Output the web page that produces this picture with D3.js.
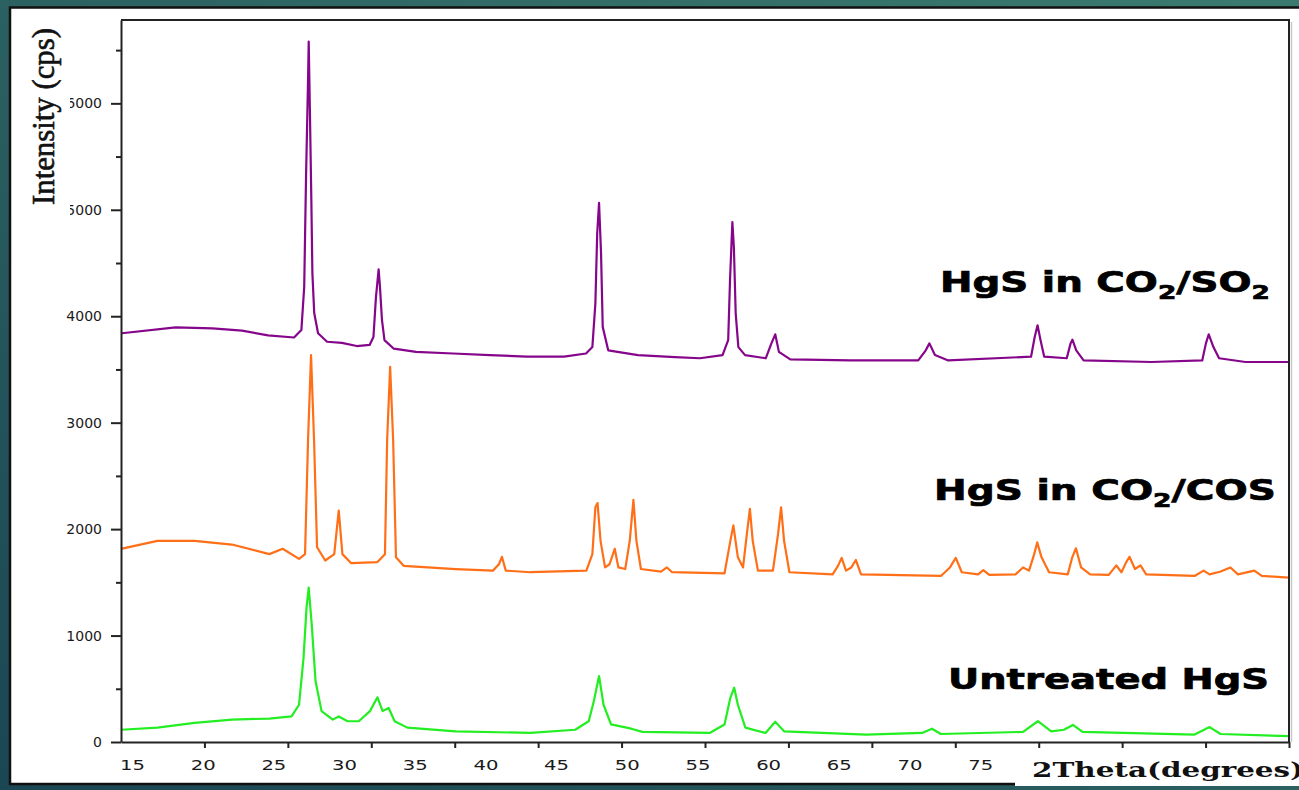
<!DOCTYPE html>
<html>
<head>
<meta charset="utf-8">
<script src="https://cdn.jsdelivr.net/npm/d3@7"></script>
<style>
html, body { margin: 0; padding: 0; overflow: hidden; background: #1f4d57; }
svg { display: block; }
</style>
</head>
<body>
<svg id="chart" width="1299" height="790"></svg>
<script>
// [2theta (deg), intensity (cps)]
var so2Data = [
    [10.05,3840],[13.27,3895],[15.48,3885],[17.25,3865],[18.81,3820],[20.37,3800],[20.81,3870],[20.98,4275],
    [21.09,5310],[21.21,6220],[21.25,6580],[21.32,5940],[21.41,5065],[21.47,4405],[21.58,4030],[21.81,3840],
    [22.35,3760],[23.24,3750],[24.13,3720],[24.90,3730],[25.13,3805],[25.28,4180],[25.44,4440],[25.52,4275],
    [25.64,3965],[25.79,3775],[26.35,3695],[27.68,3665],[29.90,3650],[32.11,3635],[34.33,3620],[36.55,3620],
    [37.87,3650],[38.25,3710],[38.43,4120],[38.54,4780],[38.65,5065],[38.77,4590],[38.87,3900],[39.20,3680],
    [40.98,3635],[43.20,3615],[44.70,3605],[46.05,3635],[46.39,3775],[46.50,4340],[46.64,4885],[46.73,4650],
    [46.84,4025],[47.00,3710],[47.40,3635],[48.64,3605],[48.98,3745],[49.21,3830],[49.43,3665],[50.11,3595],
    [53.72,3585],[57.78,3585],[58.23,3680],[58.45,3745],[58.78,3635],[59.58,3585],[64.54,3620],[64.76,3805],
    [64.93,3915],[65.11,3775],[65.33,3620],[66.68,3605],[66.91,3745],[67.02,3780],[67.25,3680],[67.69,3585],
    [71.76,3570],[74.80,3585],[75.02,3745],[75.19,3830],[75.47,3710],[75.81,3605],[77.39,3570],[80.00,3570]
];

var cosData = [
    [10.00,1815],[12.18,1890],[14.41,1890],[16.65,1855],[18.89,1765],[19.69,1815],[20.67,1720],[21.03,1765],
    [21.21,2835],[21.39,3635],[21.57,2835],[21.75,1830],[22.24,1705],[22.78,1765],[23.05,2175],[23.27,1765],
    [23.80,1680],[25.37,1690],[25.82,1765],[25.95,2835],[26.13,3525],[26.31,2835],[26.48,1735],[26.94,1655],
    [30.06,1625],[32.29,1610],[32.65,1670],[32.83,1740],[33.06,1610],[34.54,1595],[37.89,1610],[38.25,1765],
    [38.43,2205],[38.56,2245],[38.74,1890],[39.01,1640],[39.28,1670],[39.59,1815],[39.81,1640],[40.22,1625],
    [40.49,1890],[40.71,2275],[40.89,1890],[41.16,1625],[42.36,1600],[42.72,1640],[43.03,1595],[46.17,1585],
    [46.52,1890],[46.70,2035],[46.97,1735],[47.28,1640],[47.51,1955],[47.69,2190],[47.86,1890],[48.17,1610],
    [49.07,1610],[49.38,1955],[49.56,2205],[49.74,1890],[50.06,1595],[52.65,1575],[52.97,1655],[53.19,1730],
    [53.45,1610],[53.77,1640],[54.04,1710],[54.35,1575],[59.14,1560],[59.68,1640],[60.03,1730],[60.39,1595],
    [61.37,1575],[61.68,1615],[62.04,1570],[63.61,1575],[64.06,1640],[64.42,1610],[64.73,1765],[64.91,1875],
    [65.17,1735],[65.62,1595],[66.74,1575],[67.01,1735],[67.23,1820],[67.54,1640],[68.08,1575],[69.20,1570],
    [69.65,1660],[69.96,1595],[70.23,1685],[70.44,1740],[70.77,1625],[71.10,1660],[71.44,1575],[74.34,1560],
    [74.88,1610],[75.24,1575],[75.86,1600],[76.49,1640],[76.94,1575],[77.92,1610],[78.37,1560],[80.00,1545]
];

var untreatedData = [
    [10.00,115],[12.18,135],[14.41,180],[16.65,210],[18.89,220],[20.22,240],[20.67,350],[20.94,790],
    [21.12,1265],[21.25,1450],[21.43,1105],[21.66,570],[22.02,290],[22.69,210],[23.05,240],[23.58,195],
    [24.25,195],[24.92,290],[25.37,420],[25.68,290],[26.04,320],[26.40,195],[27.16,135],[30.06,100],
    [34.54,85],[37.22,115],[38.03,195],[38.34,385],[38.65,620],[38.92,350],[39.37,165],[40.58,125],
    [41.25,95],[45.28,85],[46.17,165],[46.52,415],[46.75,510],[46.97,350],[47.42,135],[48.63,85],
    [49.21,190],[49.74,100],[54.66,70],[58.01,85],[58.60,125],[59.14,75],[64.06,95],[64.95,195],
    [65.75,100],[66.51,115],[67.05,160],[67.63,95],[74.34,70],[75.24,140],[75.90,75],[80.00,55]
];

var yTicks = [0, 1000, 2000, 3000, 4000, 5000, 6000];
var yMinor = [500, 1500, 2500, 3500, 4500, 5500, 6500];
var xTicks = [15, 20, 25, 30, 35, 40, 45, 50, 55, 60, 65, 70, 75, 80];
var xLabels = [15, 20, 25, 30, 35, 40, 45, 50, 55, 60, 65, 70, 75];

var series = [
    {name: "HgS in CO2/SO2", data: so2Data, color: "#85068a"},
    {name: "HgS in CO2/COS", data: cosData, color: "#ff6f17"},
    {name: "Untreated HgS", data: untreatedData, color: "#22ee22"}
];

var svg = d3.select("#chart");

// teal slide background + white panel
var grad = svg.append("defs").append("linearGradient")
    .attr("id", "bg").attr("x1", "0%").attr("y1", "100%").attr("x2", "100%").attr("y2", "0%");
grad.append("stop").attr("offset", "0%").attr("stop-color", "#1b4653");
grad.append("stop").attr("offset", "100%").attr("stop-color", "#3b7b6f");
svg.append("rect").attr("width", 1299).attr("height", 790).attr("fill", "url(#bg)");
svg.append("rect").attr("x", 10).attr("y", 7.5).attr("width", 1300).attr("height", 776.5)
    .attr("fill", "#fff").attr("stroke", "#111").attr("stroke-width", 2.5);

let x = d3.scaleLinear().domain([10, 80]).range([121, 1289]);
let y = d3.scaleLinear().domain([0, 6783]).range([742, 20]);
// the printed numbers under the axis sit on their own spacing
let labelX = d3.scaleLinear().domain([15, 75]).range([x(10.69), x(61.52)]);

let line = d3.line().x(d => x(d[0])).y(d => y(d[1]));

svg.selectAll(".trace")
    .data(series)
    .enter().append("path")
    .attr("class", "trace")
    .attr("d", d => line(d.data))
    .attr("fill", "none")
    .attr("stroke", d => d.color)
    .attr("stroke-width", 2.2)
    .attr("stroke-linejoin", "round");

// axes
let xAxis = d3.axisBottom(x).tickValues(xTicks).tickFormat("").tickSize(6).tickSizeOuter(0);
let gx = svg.append("g").attr("transform", "translate(0," + y(0) + ")").call(xAxis);
gx.select(".domain").attr("stroke", "#222").attr("stroke-width", 2);
gx.selectAll(".tick line").attr("stroke", "#222").attr("stroke-width", 2);

let yAxis = d3.axisLeft(y).tickValues(yTicks).tickFormat(d3.format("d"))
    .tickSize(10).tickPadding(9).tickSizeOuter(0);
let gy = svg.append("g").attr("transform", "translate(" + x(10) + ",0)").call(yAxis);
gy.select(".domain").attr("stroke", "#222").attr("stroke-width", 2);
gy.selectAll(".tick line").attr("stroke", "#222").attr("stroke-width", 2);
gy.selectAll(".tick text")
    .style("font-family", "'DejaVu Sans', sans-serif")
    .style("font-size", "14px")
    .attr("fill", "#1a1a1a");

let yAxisMinor = d3.axisLeft(y).tickValues(yMinor).tickFormat("").tickSize(5).tickSizeOuter(0);
let gym = svg.append("g").attr("transform", "translate(" + x(10) + ",0)").call(yAxisMinor);
gym.select(".domain").remove();
gym.selectAll(".tick line").attr("stroke", "#222").attr("stroke-width", 2);

// top and right frame
svg.append("path")
    .attr("d", "M" + x(10) + "," + y(6783) + "H" + x(80) + "V" + y(0))
    .attr("fill", "none").attr("stroke", "#222").attr("stroke-width", 2);
svg.append("line")
    .attr("x1", x(80) + 2.5).attr("x2", x(80) + 2.5).attr("y1", y(6783) + 2).attr("y2", y(0))
    .attr("stroke", "#c8c8c8").attr("stroke-width", 1.5);

// x tick numbers
svg.selectAll(".xlab")
    .data(xLabels)
    .enter().append("text")
    .attr("class", "xlab")
    .attr("transform", d => "translate(" + labelX(d) + ",769.5) scale(1.4,1)")
    .attr("text-anchor", "middle")
    .style("font-family", "'DejaVu Sans', sans-serif")
    .style("font-size", "14px")
    .attr("fill", "#1a1a1a")
    .text(d => d);

// y title, its white box hides the first digit of the top labels
svg.append("rect").attr("x", 12).attr("y", 9).attr("width", 58).attr("height", 220).attr("fill", "#fff");
svg.append("text")
    .attr("transform", "translate(53.5,116.5) rotate(-90)")
    .attr("text-anchor", "middle")
    .attr("textLength", 177)
    .attr("lengthAdjust", "spacingAndGlyphs")
    .style("font-family", "'Liberation Serif', serif")
    .style("font-size", "31px")
    .attr("fill", "#111")
    .attr("stroke", "#111")
    .attr("stroke-width", 0.6)
    .text("Intensity (cps)");

// x title on its own white box
svg.append("rect").attr("x", 1015).attr("y", 752).attr("width", 290).attr("height", 34).attr("fill", "#fff");
svg.append("text")
    .attr("x", 1032).attr("y", 777)
    .attr("textLength", 272)
    .attr("lengthAdjust", "spacingAndGlyphs")
    .style("font-family", "'DejaVu Serif', serif")
    .style("font-weight", "bold")
    .style("font-size", "21px")
    .attr("fill", "#111")
    .text("2Theta(degrees)");

// series names, stretched to the width they take in the figure
let names = [
    {parts: [["HgS in CO", 0], ["2", 1], ["/SO", 0], ["2", 1]], x0: 940, x1: 1270, base: 292},
    {parts: [["HgS in CO", 0], ["2", 1], ["/COS", 0]], x0: 934, x1: 1276, base: 500},
    {parts: [["Untreated HgS", 0]], x0: 948, x1: 1269, base: 689}
];

names.forEach(n => {
    let t = svg.append("text")
        .style("font-family", "'DejaVu Sans', sans-serif")
        .style("font-weight", "bold")
        .style("font-size", "28px")
        .attr("fill", "#000")
        .attr("stroke", "#000")
        .attr("stroke-width", 0.7);
    let low = 0;
    n.parts.forEach(p => {
        let sub = p[1] == 1;
        let dy = sub ? 7 - low : -low;
        low = sub ? 7 : 0;
        t.append("tspan")
            .attr("dy", dy)
            .style("font-size", sub ? "19px" : "28px")
            .text(p[0]);
    });
    let bb = t.node().getBBox();
    let sx = (n.x1 - n.x0) / bb.width;
    t.attr("transform", "translate(" + n.x0 + "," + n.base + ") scale(" + sx + ",1) translate(" + (-bb.x) + ",0)");
});
</script>
</body>
</html>
